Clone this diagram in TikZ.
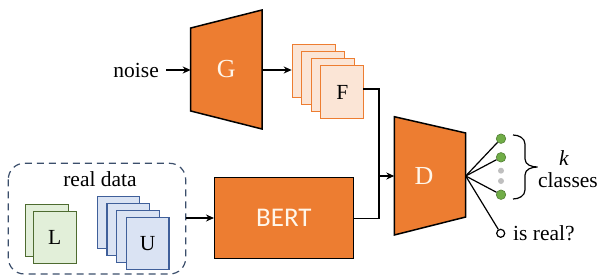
\documentclass[tikz,border=0pt]{standalone}
\usepackage{fontspec}
\setmainfont{Liberation Serif}
\newfontfamily\calib{Carlito}
\usetikzlibrary{arrows.meta,calc}
\definecolor{orng}{HTML}{ED7D31}
\definecolor{lorng}{HTML}{FBE5D6}
\definecolor{lgreen}{HTML}{E2EFD9}
\definecolor{dgreen}{HTML}{4E6B30}
\definecolor{lblue}{HTML}{DAE3F3}
\definecolor{dblue}{HTML}{3F5F9A}
\definecolor{dotgreen}{HTML}{70AD47}
\definecolor{dotgreenb}{HTML}{507E32}
\definecolor{boxdash}{HTML}{3B4E6B}
\definecolor{cream}{HTML}{FFF6EA}
\tikzset{
  txt/.style={inner sep=0pt, font=\fontsize{21.5}{24}\selectfont},
  big/.style={inner sep=0pt, text=cream, font=\fontsize{26}{28}\selectfont},
  conn/.style={line width=1.2pt, draw=black},
  arr/.style={conn, -{Stealth[length=8pt,width=7pt]}},
  netshape/.style={fill=orng, draw=black, line width=1.5pt, line join=miter},
  fcard/.style={rectangle, draw=orng, fill=lorng, line width=1.2pt, minimum width=43pt, minimum height=53pt, inner sep=0pt, anchor=north west},
  lcard/.style={rectangle, draw=dgreen, fill=lgreen, line width=1.2pt, minimum width=43pt, minimum height=52pt, inner sep=0pt, anchor=north west},
  ucard/.style={rectangle, draw=dblue, fill=lblue, line width=1.2pt, minimum width=42.5pt, minimum height=52.5pt, inner sep=0pt, anchor=north west},
  gdot/.style={circle, fill=dotgreen, draw=dotgreenb, line width=0.6pt, minimum size=9.5pt, inner sep=0pt},
  graydot/.style={circle, fill=black!25, minimum size=6pt, inner sep=0pt},
  wdot/.style={circle, fill=white, draw=black, line width=1.2pt, minimum size=8pt, inner sep=0pt},
}
\begin{document}
\begin{tikzpicture}[x=1pt,y=-1pt]
\useasboundingbox (0,0) rectangle (598,276);
% Generator
\draw[netshape] (190.7,28) -- (262,10) -- (262,129) -- (190.7,111) -- cycle;
\node[big] (G) at (226.3,69.5) {G};
\coordinate (Gin) at (190.7,70);
\coordinate (Gout) at (262,70);
\node[txt, anchor=east] (noise) at (159,70) {noise};
\draw[arr] (noise.east) ++(7,0) coordinate (nstart) -- (Gin);
% F stack
\node[fcard] (F1) at (291.7,44) {};
\node[fcard] (F2) at (301.2,51) {};
\node[fcard] (F3) at (310.7,58) {};
\node[fcard] (F4) at (320.2,65) {};
\node[txt] (Flab) at (F4.center) {F};
\draw[arr] (Gout) -- (F1.west |- Gout);
% Discriminator
\draw[netshape] (394.3,116.7) -- (465.7,133) -- (465.7,217) -- (394.3,235) -- cycle;
\node[big] (D) at (424,176.5) {D};
\coordinate (Din) at (394.3,176);
\coordinate (Dout) at (465.7,176);
\coordinate (J) at (379,176);
% BERT
\node[rectangle, fill=orng, draw=black, line width=1pt, minimum width=138.7pt, minimum height=81pt, inner sep=0pt, anchor=north west] (BERT) at (214,177.3) {};
\node[inner sep=0pt, text=cream, font=\calib\fontsize{27}{29}\selectfont] (BERTlab) at (BERT.center) {BERT};
% connectors to D
\coordinate (Fo) at (363.2,89);
\draw[conn] (Fo) -| (J);
\draw[conn] (BERT.east) -| (J);
\draw[arr] (J) -- (Din);
% data box
\draw[boxdash, line width=1.2pt, dash pattern=on 7pt off 5pt, rounded corners=16pt] (8.3,163.3) rectangle (185.7,274);
\coordinate (boxout) at (185.7,218);
\node[txt] (rd) at (100,179) {real data};
\node[lcard] (L1) at (25,204) {};
\node[lcard] (L2) at (32.7,211) {};
\node[txt] (Llab) at (L2.center) {L};
\node[ucard] (U1) at (96.7,195.7) {};
\node[ucard] (U2) at (106.4,202.7) {};
\node[ucard] (U3) at (116.1,209.7) {};
\node[ucard] (U4) at (125.8,216.7) {};
\node[txt] (Ulab) at (U4.center) {U};
\draw[arr] (boxout) -- (BERT.west |- boxout);
% outputs
\node[gdot] (c1) at (501,138.7) {};
\node[gdot] (c2) at (501,157.3) {};
\node[graydot] (g1) at (501,170.7) {};
\node[graydot] (g2) at (501,181) {};
\node[gdot] (c3) at (501,194.7) {};
\node[wdot] (r) at (500.7,233.3) {};
\foreach \n in {c1,c2,c3,r} \draw[conn] (Dout) -- (\n);
\draw[line width=1.2pt] (513,135) to[out=0,in=90] (525,144) -- (525,159) to[out=-90,in=180] (537.5,167) to[out=180,in=90] (525,175) -- (525,190) to[out=-90,in=0] (513,199);
\node[txt, font=\itshape\fontsize{21.5}{24}\selectfont] (k) at (564,158.5) {k};
\node[txt] (cls) at (568,180) {classes};
\node[txt, anchor=west] (isreal) at (513,233) {is real?};
\end{tikzpicture}
\end{document}
